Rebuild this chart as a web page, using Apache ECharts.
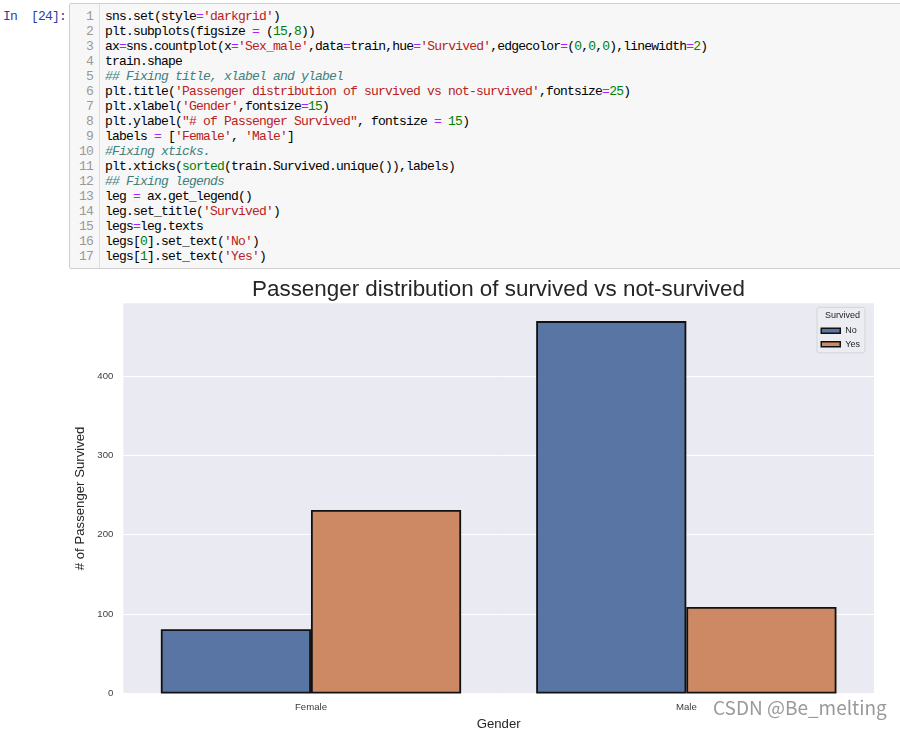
<!DOCTYPE html>
<html>
<head>
<meta charset="utf-8">
<script src="https://cdn.jsdelivr.net/npm/echarts@6/dist/echarts.min.js"></script>
<style>
  body { margin: 0; width: 900px; height: 730px; background: #fff; position: relative; overflow: hidden; }
  .prompt { position: absolute; left: 3px; top: 8.5px; font: 13px/15.05px "Liberation Mono", monospace; letter-spacing: -0.8px; color: #303f9f; white-space: pre; }
  .cell { position: absolute; left: 69px; top: 3px; width: 860px; height: 264px; border: 1px solid #cfcfcf; border-radius: 2px; background: #f7f7f7; }
  .gutter { position: absolute; left: 0; top: 0; width: 29px; height: 100%; border-right: 1px solid #dddddd; }
  .gutter pre, .code { margin: 0; position: absolute; top: 4.5px; font: 13px/15.05px "Liberation Mono", monospace; letter-spacing: -0.8px; }
  .gutter pre { right: 6px; text-align: right; color: #999; }
  .code { left: 35px; color: #000; }
  .o { color: #aa22ff; }
  .s { color: #ba2121; }
  .n { color: #008000; }
  .b { color: #008000; }
  .c { color: #408080; font-style: italic; }
  #chart { position: absolute; left: 0; top: 270px; width: 900px; height: 460px; }
</style>
</head>
<body>
<div class="prompt">In  [24]:</div>
<div class="cell">
  <div class="gutter"><pre>1
2
3
4
5
6
7
8
9
10
11
12
13
14
15
16
17</pre></div>
<pre class="code">sns.set(style<span class="o">=</span><span class="s">'darkgrid'</span>)
plt.subplots(figsize <span class="o">=</span> (<span class="n">15</span>,<span class="n">8</span>))
ax<span class="o">=</span>sns.countplot(x<span class="o">=</span><span class="s">'Sex_male'</span>,data<span class="o">=</span>train,hue<span class="o">=</span><span class="s">'Survived'</span>,edgecolor<span class="o">=</span>(<span class="n">0</span>,<span class="n">0</span>,<span class="n">0</span>),linewidth<span class="o">=</span><span class="n">2</span>)
train.shape
<span class="c">## Fixing title, xlabel and ylabel</span>
plt.title(<span class="s">'Passenger distribution of survived vs not-survived'</span>,fontsize<span class="o">=</span><span class="n">25</span>)
plt.xlabel(<span class="s">'Gender'</span>,fontsize<span class="o">=</span><span class="n">15</span>)
plt.ylabel(<span class="s">"# of Passenger Survived"</span>, fontsize <span class="o">=</span> <span class="n">15</span>)
labels <span class="o">=</span> [<span class="s">'Female'</span>, <span class="s">'Male'</span>]
<span class="c">#Fixing xticks.</span>
plt.xticks(<span class="b">sorted</span>(train.Survived.unique()),labels)
<span class="c">## Fixing legends</span>
leg <span class="o">=</span> ax.get_legend()
leg.set_title(<span class="s">'Survived'</span>)
legs<span class="o">=</span>leg.texts
legs[<span class="n">0</span>].set_text(<span class="s">'No'</span>)
legs[<span class="n">1</span>].set_text(<span class="s">'Yes'</span>)</pre>
</div>
<div id="chart"></div>

<script>
// counts
const genders = ['Female', 'Male']
const notSurvived = [81, 469]
const survived = [231, 109]
const legendNames = ['No', 'Yes']
const yMax = 491.4
const yStep = 100

const font = 'Liberation Sans, Arial, sans-serif'
const edge = { borderColor: '#111111', borderWidth: 1.8 }

const chart = echarts.init(document.getElementById('chart'))
chart.setOption({
  animation: false,
  title: {
    text: 'Passenger distribution of survived vs not-survived',
    left: 498.5,
    top: 9,
    padding: 0,
    textAlign: 'center',
    textStyle: { fontFamily: font, fontSize: 22.4, fontWeight: 'normal', color: '#262626' }
  },
  legend: {
    data: legendNames,
    orient: 'vertical',
    left: 817,
    top: 37.3,
    padding: [19, 5, 4, 3.5],
    itemWidth: 19,
    itemHeight: 5,
    itemGap: 4.5,
    icon: 'rect',
    itemStyle: { borderColor: '#111111', borderWidth: 1.5 },
    backgroundColor: '#ececf3',
    borderColor: '#d4d4da',
    borderWidth: 1,
    borderRadius: 2,
    textStyle: { fontFamily: font, fontSize: 9, lineHeight: 9, color: '#262626' }
  },
  grid: {
    left: 123.3,
    right: 26,
    top: 33.3,
    bottom: 36.5,
    outerBoundsMode: 'none',
    show: true,
    backgroundColor: '#eaeaf2',
    borderWidth: 0
  },
  xAxis: {
    type: 'category',
    data: genders,
    name: 'Gender',
    nameLocation: 'middle',
    nameGap: 22,
    nameTextStyle: { fontFamily: font, fontSize: 13.2, color: '#262626' },
    axisLine: { show: false },
    axisTick: { show: false },
    axisLabel: { fontFamily: font, fontSize: 9.6, color: '#3c3c3c', margin: 9 },
    splitLine: { show: false }
  },
  yAxis: {
    type: 'value',
    min: 0,
    max: yMax,
    interval: yStep,
    name: '# of Passenger Survived',
    nameLocation: 'middle',
    nameGap: 28,
    nameTextStyle: { fontFamily: font, fontSize: 13.2, color: '#262626' },
    axisLine: { show: false },
    axisTick: { show: false },
    axisLabel: {
      fontFamily: font, fontSize: 9.6, color: '#3c3c3c', margin: 10,
      showMaxLabel: false,
      formatter: v => (v % yStep === 0 ? String(v) : '')
    },
    splitLine: { show: true, showMaxLine: false, lineStyle: { color: '#ffffff', width: 1 } }
  },
  series: [
    {
      name: legendNames[0],
      type: 'bar',
      data: notSurvived,
      barGap: '0%',
      barCategoryGap: '20%',
      itemStyle: Object.assign({ color: '#5975a4' }, edge)
    },
    {
      name: legendNames[1],
      type: 'bar',
      data: survived,
      barGap: '0%',
      barCategoryGap: '20%',
      itemStyle: Object.assign({ color: '#cc8963' }, edge)
    }
  ],
  graphic: [
    {
      type: 'text',
      z: 100,
      x: 842.5,
      y: 45.7,
      style: { text: 'Survived', fontFamily: font, fontSize: 9, fill: '#262626', align: 'center', verticalAlign: 'middle' }
    },
    {
      type: 'text',
      z: 100,
      x: 713,
      y: 438,
      style: { text: 'CSDN @Be_melting', fontFamily: 'Noto Sans CJK SC', fontSize: 19, fill: '#9a9a9a', verticalAlign: 'middle' }
    }
  ]
})
</script>
</body>
</html>
